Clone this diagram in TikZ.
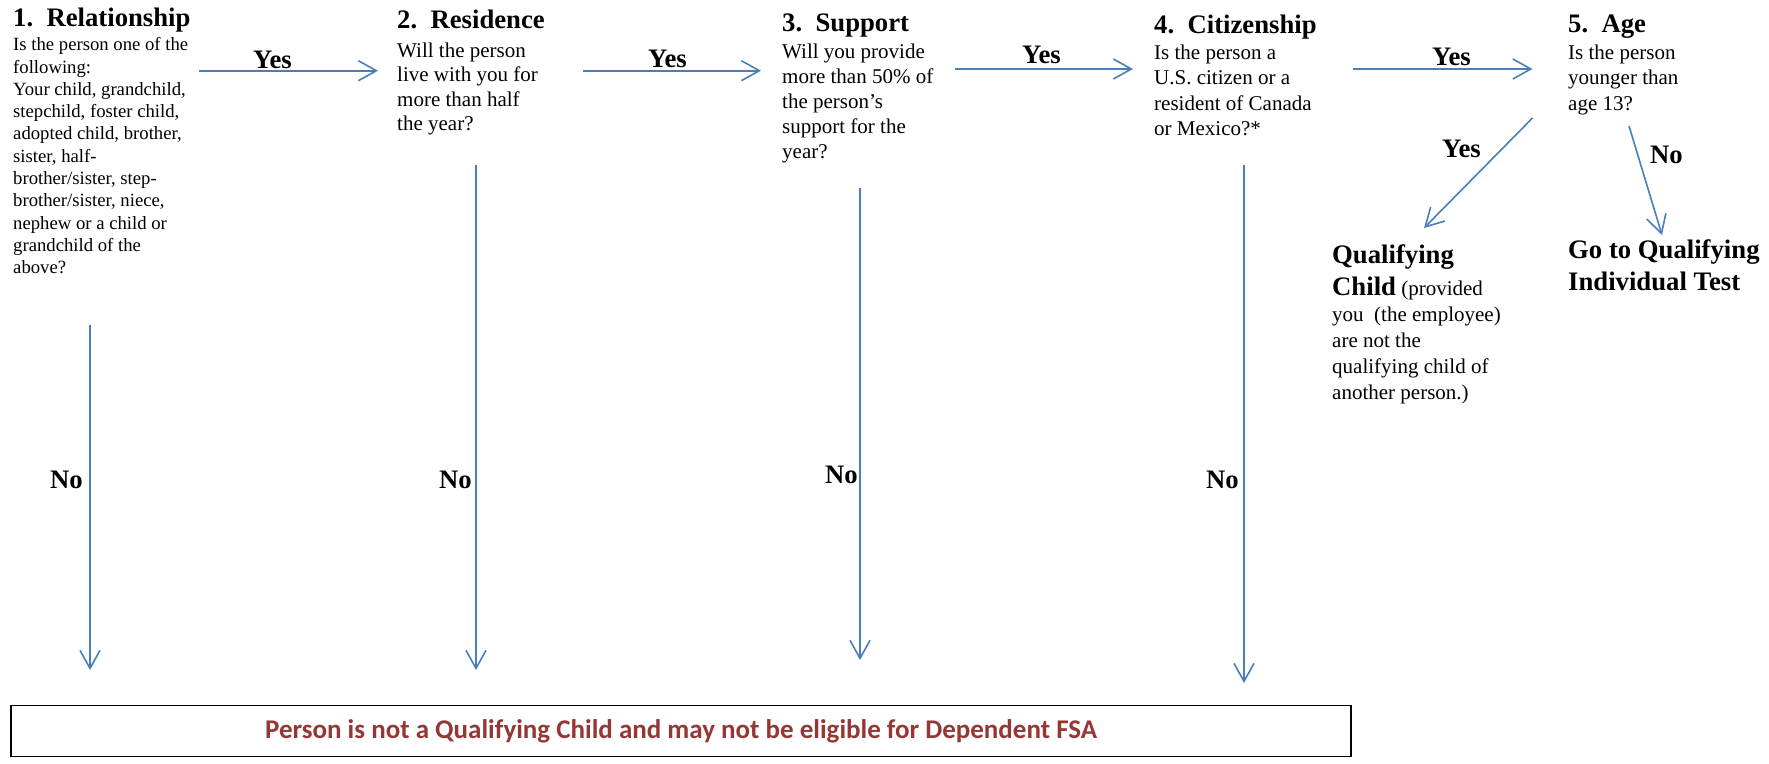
\documentclass[tikz,border=0pt]{standalone}
\usepackage{fontspec}
\setmainfont{Liberation Serif}
\newfontfamily\calib{Carlito}
\usetikzlibrary{arrows.meta}
\definecolor{arrowblue}{HTML}{4A7EBB}
\definecolor{boxred}{HTML}{953735}
\begin{document}
\begin{tikzpicture}[x=1pt,y=-1pt,
  title/.style={anchor=base west, inner sep=0pt, font=\fontsize{26.7}{30}\selectfont\bfseries},
  body/.style={anchor=base west, inner sep=0pt, align=left, font=\fontsize{21}{25}\selectfont},
  lbl/.style={anchor=base west, inner sep=0pt, font=\fontsize{26.7}{30}\selectfont\bfseries},
  flow/.style={draw=arrowblue, line width=1.6pt, -{Straight Barb[length=18pt,width=20pt,line width=1.6pt]}},
]
\useasboundingbox (0,0) rectangle (1769,763);
\fill[white] (0,0) rectangle (1769,763);

% column 1 (body anchors are at the baseline of the last line)
\node[title] (t1) at (13,26) {1.\ \ Relationship};
\node[body, font=\fontsize{18.7}{22.3}\selectfont] (b1) at (13,273.7) {Is the person one of the\\following:\\Your child, grandchild,\\stepchild, foster child,\\adopted child, brother,\\sister, half-\\brother/sister, step-\\brother/sister, niece,\\nephew or a child or\\grandchild of the\\above?};
% column 2
\node[title] (t2) at (397,28) {2.\ \ Residence};
\node[body, font=\fontsize{21}{24.5}\selectfont] (b2) at (397,130.5) {Will the person\\live with you for\\more than half\\the year?};
% column 3
\node[title] (t3) at (782,31.7) {3.\ \ Support};
\node[body] (b3) at (782,158) {Will you provide\\more than 50\% of\\the person’s\\support for the\\year?};
% column 4
\node[title] (t4) at (1154,33) {4.\ \ Citizenship};
\node[body, font=\fontsize{21}{25.6}\selectfont] (b4) at (1154,135.8) {Is the person a\\U.S. citizen or a\\resident of Canada\\or Mexico?*};
% column 5
\node[title] (t5) at (1568,32) {5.\ \ Age};
\node[body, font=\fontsize{21}{25.6}\selectfont] (b5) at (1568,110.2) {Is the person\\younger than\\age 13?};

% outcomes
\node[body, font=\fontsize{21}{26}\selectfont] (qc) at (1332,399) {{\fontsize{26.7}{30}\selectfont\bfseries Qualifying}\\[6pt]{\fontsize{26.7}{30}\selectfont\bfseries Child} (provided\\you\ \ (the employee)\\are not the\\qualifying child of\\another person.)};
\node[body, font=\fontsize{26.7}{32}\selectfont\bfseries] (gq) at (1568,290) {Go to Qualifying\\Individual Test};

\node[draw=black, line width=1.8pt, minimum width=1340pt, minimum height=51pt, inner sep=0pt,
      font=\calib\fontsize{27}{30}\selectfont\bfseries, text=boxred] (nq) at (681,731)
      {Person is not a Qualifying Child and may not be eligible for Dependent FSA};

% arrow end points
\coordinate (y1s) at (199,70.7); \coordinate (y1e) at (378,70.7);
\coordinate (y2s) at (583,70.7); \coordinate (y2e) at (761,70.7);
\coordinate (y3s) at (955,69);   \coordinate (y3e) at (1133,69);
\coordinate (y4s) at (1352.5,69); \coordinate (y4e) at (1532.5,69);
\coordinate (d1s) at (1532.5,118); \coordinate (d1e) at (1424,228);
\coordinate (d2s) at (1629,126); \coordinate (d2e) at (1662,235);
\coordinate (n1s) at (90,325);  \coordinate (n1e) at (90,670);
\coordinate (n2s) at (476,165); \coordinate (n2e) at (476,670);
\coordinate (n3s) at (860,188); \coordinate (n3e) at (860,660);
\coordinate (n4s) at (1244,165); \coordinate (n4e) at (1244,683);

\draw[flow] (y1s) -- (y1e);
\draw[flow] (y2s) -- (y2e);
\draw[flow] (y3s) -- (y3e);
\draw[flow] (y4s) -- (y4e);
\draw[flow] (d1s) -- (d1e);
\draw[flow] (d2s) -- (d2e);
\draw[flow] (n1s) -- (n1e);
\draw[flow] (n2s) -- (n2e);
\draw[flow] (n3s) -- (n3e);
\draw[flow] (n4s) -- (n4e);

% labels
\node[lbl] (ly1) at (253,68) {Yes};
\node[lbl] (ly2) at (648,67) {Yes};
\node[lbl] (ly3) at (1022,63) {Yes};
\node[lbl] (ly4) at (1432,65) {Yes};
\node[lbl] (ly5) at (1442,157) {Yes};
\node[lbl] (ln1) at (50,488) {No};
\node[lbl] (ln2) at (439,488) {No};
\node[lbl] (ln3) at (825,483) {No};
\node[lbl] (ln4) at (1206,488) {No};
\node[lbl] (ln5) at (1650,163) {No};
\end{tikzpicture}
\end{document}
